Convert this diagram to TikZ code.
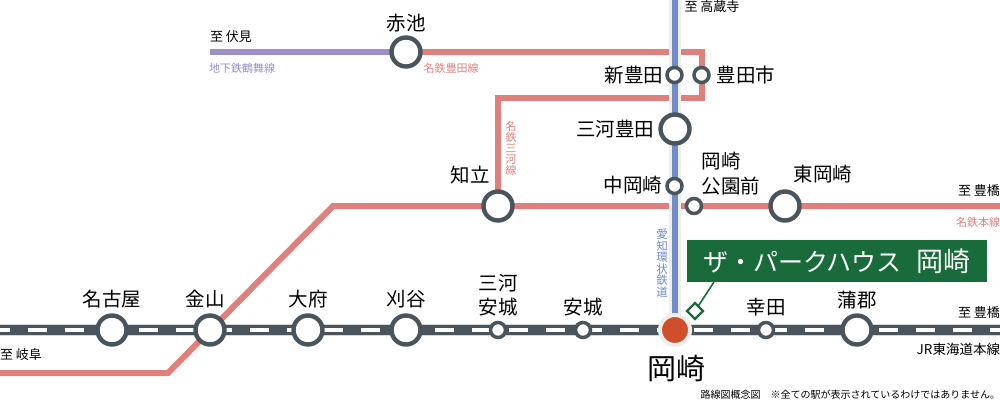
\documentclass[tikz,border=0pt]{standalone}
\usepackage{fontspec}
\setmainfont{Noto Sans CJK JP}
\usetikzlibrary{backgrounds, shapes.geometric}
\definecolor{jrdark}{HTML}{4A545C}
\definecolor{jrhalo}{HTML}{D5D9DC}
\definecolor{meitetsu}{HTML}{E0807D}
\definecolor{aikan}{HTML}{6F8CC8}
\definecolor{aikanhalo}{HTML}{EEEEEC}
\definecolor{tsurumai}{HTML}{9B8FC5}
\definecolor{parkgreen}{HTML}{1A6B3C}
\definecolor{hereorange}{HTML}{CF4F2D}
\newcommand{\fs}[1]{\fontsize{#1}{#1}\selectfont}

\begin{document}
\begin{tikzpicture}
    [x=1pt, y=-1pt,
     every node/.style={inner sep=0pt, outer sep=0pt},
     bigstation/.style={circle, draw=jrdark, fill=white, line width=4.4pt, minimum size=29pt},
     smallstation/.style={circle, draw=jrdark, fill=white, line width=3.5pt, minimum size=15pt},
     herestation/.style={circle, draw=aikanhalo, fill=hereorange, line width=4pt, minimum size=30pt},
     stationname/.style={font=\fs{19.5}, text=black},
     endname/.style={font=\fs{13}, text=black},
     linename/.style={font=\fs{11}},
     vertname/.style={align=center, font=\fs{11}},
     redline/.style={draw=meitetsu, line width=6pt, line join=miter}]

    \useasboundingbox (0,0) rectangle (1000,402);

    % stations
    \foreach \id/\x/\y/\kind in {
      nagoya/112/330/big, kanayama/210/330/big, obu/308/330/big, kariya/406/330/big,
      anjomikawa/498/330/small, anjo/583/330/small, kota/766/330/small, gamagori/857/330/big,
      akaike/406/52/big, shintoyota/674.5/75/small, toyotashi/701.5/75/small,
      mikawatoyota/675/129/big, nakaokazaki/674.5/186/small, koenmae/694/206/small,
      higashiokazaki/785/206/big, chiryu/498/206/big}
      \node[\kind station] (\id) at (\x,\y) {};
    \node[herestation] (okazaki) at (675,330) {};

    % line ends and corners
    \coordinate (jrwest) at (0,330);
    \coordinate (jreast) at (1000,330);
    \coordinate (mainwest) at (0,373);
    \coordinate (mainbenda) at (168,373);
    \coordinate (mainbendb) at (333,206);
    \coordinate (maineast) at (1000,206);
    \coordinate (toyotane) at (701.5,52);
    \coordinate (toyotase) at (701.5,97.5);
    \coordinate (mikawacorner) at (498,97.5);
    \coordinate (purplewest) at (210,52);
    \coordinate (aikantop) at (675,0);
    \coordinate (aikanbottom) at (675,318);

    \begin{scope}[on background layer]
      \draw[redline] (mainwest) -- (mainbenda) -- (mainbendb) -- (chiryu) -- (koenmae) -- (higashiokazaki) -- (maineast);
      \draw[redline] (akaike) -- (toyotane) -- (toyotase) -- (mikawacorner) -- (chiryu);
      \draw[draw=tsurumai, line width=6pt] (purplewest) -- (akaike);
      \draw[draw=aikanhalo, line width=12pt] (aikantop) -- (aikanbottom);
      \draw[draw=aikan, line width=6pt] (aikantop) -- (aikanbottom);
      \draw[draw=jrhalo, line width=12pt] (jrwest) -- (jreast);
      \draw[draw=jrdark, line width=10pt] (jrwest) -- (jreast);
      \draw[draw=white, line width=4pt, dash pattern=on 19pt off 18pt, dash phase=9.4pt] (jrwest) -- (jreast);
    \end{scope}

    % station names
    \foreach \id/\x/\y/\txt in {
      lnagoya/112/299/名古屋, lkanayama/205/299/金山, lobu/308/299/大府, lkariya/406/299/刈谷,
      lmikawa/498/283/三河, lanjomikawa/498/307/安城, lanjo/583/307/安城, lkota/766/307/幸田,
      lgamagori/857/300/蒲郡, lakaike/406/23/赤池, lchiryu/470/175/知立,
      lshintoyota/634/75/新豊田, ltoyotashi/746/75/豊田市, lmikawatoyota/615/129/三河豊田,
      lnakaokazaki/633/185/中岡崎, lkoen/721/161/岡崎, lmae/731/186/公園前,
      lhigashi/823/174/東岡崎}
      \node[stationname] (\id) at (\x,\y) {\txt};
    \node[font=\fs{29}] (lokazaki) at (676,369) {岡崎};

    % line directions
    \foreach \id/\x/\y/\txt in {
      tofushimi/231/37/至 伏見, totakakura/712/7/至 高蔵寺, togifu/21/355/至 岐阜,
      totoyohashia/979/191/至 豊橋, totoyohashib/979/313/至 豊橋}
      \node[endname] (\id) at (\x,\y) {\txt};

    % line names
    \node[linename, text=tsurumai] (ntsurumai) at (242,68) {地下鉄鶴舞線};
    \node[linename, text=meitetsu] (ntoyotasen) at (451,68) {名鉄豊田線};
    \node[linename, text=meitetsu] (nhonsen) at (978,222) {名鉄本線};
    \node[font=\fs{13.5}, anchor=east] (ntokaido) at (1000,349) {JR東海道本線};
    \node[vertname, text=meitetsu] (nmikawasen) at (511,148) {名\\鉄\\三\\河\\線};
    \node[vertname, text=aikan, font=\fs{11.5}] (naikan) at (662,263) {愛\\知\\環\\状\\鉄\\道};

    % the property
    \node[fill=parkgreen, text=white, font=\fs{25}, minimum width=300pt, minimum height=42pt] (parkbox) at (837,261) {ザ・パークハウス\hspace{15pt}{\fs{27}岡崎}};
    \node[diamond, draw=parkgreen, fill=white, line width=2.2pt, minimum size=16pt] (parkmark) at (695,311) {};
    \coordinate (parkfoot) at (714,282);
    \draw[draw=parkgreen, line width=1.6pt] (parkfoot) -- (parkmark);

    \node[font=\fs{10}, anchor=east] (footnote) at (1000,395) {路線図概念図　※全ての駅が表示されているわけではありません。};
  \end{tikzpicture}
\end{document}
